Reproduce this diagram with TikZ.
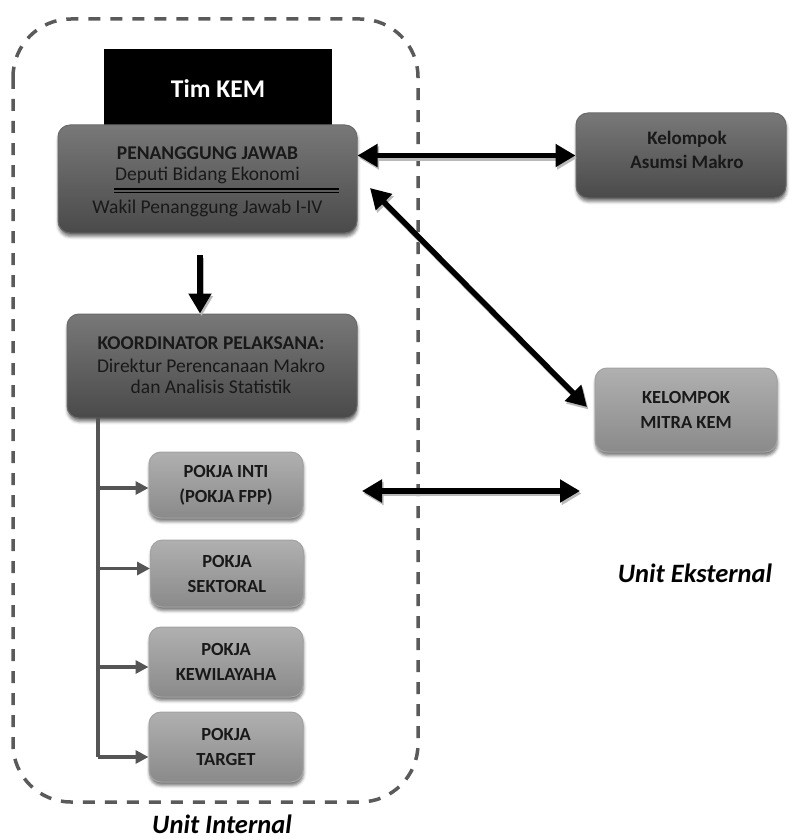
\documentclass[tikz,border=0pt]{standalone}
\usepackage{fontspec}
\setmainfont{Carlito}
\usetikzlibrary{arrows.meta,shadows,shadows.blur,calc}
\definecolor{dtop}{HTML}{787878}
\definecolor{dbot}{HTML}{4A4A4A}
\definecolor{dedge}{HTML}{6A6A6A}
\definecolor{ltop}{HTML}{B0B0B0}
\definecolor{lbot}{HTML}{8A8A8A}
\definecolor{ledge}{HTML}{A2A2A2}
\definecolor{dashc}{HTML}{5A5A5A}
\definecolor{treec}{HTML}{555555}
\begin{document}
\begin{tikzpicture}[x=1pt,y=-1pt,
  dbox/.style={rounded corners=12pt, top color=dtop, bottom color=dbot, draw=dedge, line width=1pt, inner sep=0pt,
    blur shadow={shadow xshift=0.5pt, shadow yshift=-3.5pt, shadow blur radius=3pt, shadow opacity=55}},
  lbox/.style={dbox, top color=ltop, bottom color=lbot, draw=ledge, align=center,
    font=\fontsize{18.5}{25}\selectfont\bfseries, text=black!90},
  btxt/.style={inner sep=0pt, font=\fontsize{19.5}{22}\selectfont\bfseries, text=black!90},
  rtxt/.style={inner sep=0pt, font=\fontsize{19.5}{22}\selectfont, text=black!90},
  blk/.style={fill=black, text=white, inner sep=0pt, font=\fontsize{25.5}{28}\selectfont\bfseries},
  bigarrow/.style={line width=5.5pt, {Triangle[length=20pt,width=22pt]}-{Triangle[length=20pt,width=22pt]}},
  downarrow/.style={line width=5.5pt, -{Triangle[length=20pt,width=22pt]}},
  arrshadow/.style={draw=gray!55, transform canvas={xshift=1.5pt,yshift=-2.5pt}},
  treeline/.style={draw=treec, line width=3.5pt},
  treearrow/.style={draw=treec, line width=3.5pt, -{Triangle[length=13pt,width=13pt]}},
  dashbox/.style={draw=dashc, line width=3.5pt, dash pattern=on 12pt off 10pt, rounded corners=58pt},
  unit/.style={inner sep=0pt, anchor=base, font=\fontsize{26.5}{30}\selectfont\bfseries\itshape}
]
\useasboundingbox (0,0) rectangle (793,840);

% outer dashed frame
\draw[dashbox] (13,19) rectangle (418,802);

% Tim KEM
\node[blk, minimum width=228, minimum height=80] (tim) at (218,89) {Tim KEM};

% Penanggung jawab
\node[dbox, minimum width=299, minimum height=108] (pj) at (207.5,179) {};
\node[btxt] (pj1) at (207.5,153) {PENANGGUNG JAWAB};
\node[rtxt] (pj2) at (207.5,175) {Deputi Bidang Ekonomi};
\node[rtxt] (pj3) at (207.5,208) {Wakil Penanggung Jawab I-IV};
\draw[line width=1.6pt] (114,189) -- (339,189);
\draw[line width=1.2pt] (114,192.8) -- (339,192.8);

% Koordinator
\node[dbox, minimum width=290, minimum height=104] (kd) at (212,366) {};
\node[btxt] (kd1) at (211,343) {KOORDINATOR PELAKSANA:};
\node[rtxt] (kd2) at (211,366) {Direktur Perencanaan Makro};
\node[rtxt] (kd3) at (211,387) {dan Analisis Statistik};

% Pokja boxes
\node[lbox, minimum width=154, minimum height=66] (p1) at (226,485) {POKJA INTI\\(POKJA FPP)};
\node[lbox, minimum width=153, minimum height=67] (p2) at (227,573.5) {POKJA\\SEKTORAL};
\node[lbox, minimum width=154, minimum height=70] (p3) at (226,662) {POKJA\\KEWILAYAHA};
\node[lbox, minimum width=154, minimum height=70] (p4) at (226,747) {POKJA\\TARGET};

% External boxes
\node[dbox, minimum width=210, minimum height=85] (as) at (681,155.5) {};
\node[btxt, align=center, font=\fontsize{19}{24}\selectfont\bfseries] (ast) at (687,150) {Kelompok\\Asumsi Makro};
\node[lbox, minimum width=182, minimum height=84] (mk) at (686,410) {KELOMPOK\\MITRA KEM};

% Unit labels
\node[unit] (ui) at (222,833) {Unit Internal};
\node[unit] (ue) at (695,582) {Unit Eksternal};

% coordinates for free arrow ends
\coordinate (d1) at (200,255);
\coordinate (dg1) at (370,188);
\coordinate (dg2) at (587,407);
\coordinate (h1) at (362,491);
\coordinate (h2) at (580,491);
\coordinate (t0) at (98,418);

% big arrows with shadows
\draw[bigarrow, arrshadow] (pj.east |- as.west) -- (as.west);
\draw[bigarrow] (pj.east |- as.west) -- (as.west);
\draw[bigarrow, arrshadow] (dg1) -- (dg2);
\draw[bigarrow] (dg1) -- (dg2);
\draw[bigarrow, arrshadow] (h1) -- (h2);
\draw[bigarrow] (h1) -- (h2);
\draw[downarrow, arrshadow] (d1) -- (d1 |- kd.north);
\draw[downarrow] (d1) -- (d1 |- kd.north);

% tree
\draw[treeline] (t0) -- ([yshift=-10pt]t0 |- p4.west);
\draw[treearrow] ([yshift=-3pt]t0 |- p1.west) -- ([yshift=-3pt]p1.west);
\draw[treearrow] ([yshift=5pt]t0 |- p2.west) -- ([yshift=5pt]p2.west);
\draw[treearrow] ([yshift=-5pt]t0 |- p3.west) -- ([yshift=-5pt]p3.west);
\draw[treearrow] ([yshift=-10pt]t0 |- p4.west) -- ([yshift=-10pt]p4.west);
\end{tikzpicture}
\end{document}
